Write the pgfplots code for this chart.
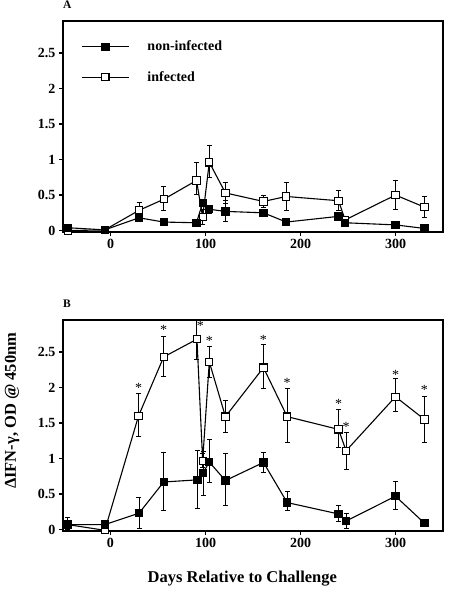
\documentclass[border=0pt]{standalone}
\usepackage{fontspec}
\setmainfont{Liberation Serif}
\usepackage{pgfplots}
\usepackage{pgfplotstable}
\pgfplotsset{compat=1.18}

% x y ep em
\pgfplotstableread{
x y ep em
-45 0.04 0 0
-6 0.01 0 0
30 0.18 0.03 0.03
56 0.12 0.02 0.02
90.5 0.11 0.02 0.02
97 0.39 0.05 0.05
104 0.30 0.06 0.06
121 0.27 0.15 0.14
161 0.25 0.05 0.05
185 0.12 0.02 0.02
240 0.20 0.06 0.06
247 0.11 0.02 0.02
300 0.08 0.02 0.02
330.5 0.03 0.02 0.02
}\nonA
\pgfplotstableread{
x y ep em
-45 0.00 0 0
-6 0.01 0 0
30 0.285 0.11 0.05
56 0.44 0.18 0.16
90.5 0.705 0.25 0.2
97 0.19 0.1 0.1
104 0.96 0.24 0.21
121 0.53 0.15 0.15
161 0.41 0.09 0.08
185 0.48 0.2 0.2
240 0.42 0.14 0.14
247 0.15 0.03 0.03
300 0.50 0.21 0.20
330.5 0.33 0.15 0.15
}\infA
\pgfplotstableread{
x y ep em
-45 0.07 0.1 0.07
-6 0.07 0.06 0.06
30 0.23 0.215 0.21
56 0.67 0.41 0.40
91.5 0.70 0.42 0.41
97.5 0.80 0.30 0.32
104 0.95 0.32 0.29
121 0.69 0.38 0.35
161 0.945 0.14 0.145
186 0.38 0.15 0.11
240 0.22 0.12 0.10
248 0.12 0.11 0.10
300 0.47 0.21 0.19
330.5 0.09 0 0
}\nonB
\pgfplotstableread{
x y ep em
-45 0.07 0 0
-6 -0.01 0 0
29.5 1.60 0.31 0.29
56 2.43 0.29 0.28
91 2.68 0.35 0.28
97 0.97 0.1 0.1
104 2.36 0.22 0.22
121 1.59 0.22 0.22
161 2.28 0.33 0.30
186 1.59 0.39 0.36
240 1.41 0.28 0.26
248 1.11 0.26 0.26
300 1.87 0.25 0.21
330.5 1.55 0.33 0.32
}\infB
\pgfplotstableread{
x y
29.5 2.00
56 2.81
94.7 2.87
104 2.65
161 2.67
186 2.06
240 1.77
248 1.45
300 2.18
330.5 1.97
}\starsB

\begin{document}
\begin{tikzpicture}
\pgfplotsset{
  myaxis/.style={
    scale only axis, width=380pt, height=211pt,
    xmin=-50, xmax=350, ymin=-0.02, ymax=2.95,
    xtick={0,100,200,300}, xticklabels={0,100,200,300},
    ytick={0,0.5,1,1.5,2,2.5}, yticklabels={0,0.5,1,1.5,2,2.5},
    tick pos=left, tick align=outside, major tick length=4pt,
    axis line style={line width=1.4pt},
    every tick/.style={line width=1.2pt, black},
    /pgf/number format/assume math mode=true,
    ticklabel style={font=\fontsize{14}{14}\selectfont\bfseries},
    title style={at={(0,1)}, anchor=south west, inner sep=0pt, yshift=6pt,
      font=\fontsize{11.5}{11.5}\selectfont\bfseries},
  },
  noninf/.style={black, line width=1.1pt, mark=square*, mark size=3.6pt,
    mark options={solid, fill=black}},
  inf/.style={black, line width=1.1pt, mark=square*, mark size=3.6pt,
    mark options={solid, fill=white}},
  errs/.style={error bars/y dir=both, error bars/y explicit,
    error bars/error bar style={line width=1pt, black},
    error bars/error mark options={rotate=90, mark size=2.5pt, line width=1pt, black}},
}
\begin{axis}[myaxis, name=A, at={(0,0)}, anchor=north west, title={A},
  legend style={at={(axis description cs:0.04,0.925)}, anchor=north west,
    draw=none, fill=none, row sep=15pt,
    font=\fontsize{14}{14}\selectfont\bfseries,
    /tikz/every odd column/.append style={column sep=16pt}},
  legend cell align=left,
  legend image code/.code={\draw[mark repeat=2,mark phase=2,#1] plot coordinates {(0pt,0pt) (23.5pt,0pt) (47pt,0pt)};}]
\addlegendimage{noninf}\addlegendentry{non-infected}
\addlegendimage{inf}\addlegendentry{infected}
\addplot[forget plot, inf, errs] table[x=x, y=y, y error plus=ep, y error minus=em] {\infA};
\addplot[forget plot, noninf, errs] table[x=x, y=y, y error plus=ep, y error minus=em] {\nonA};
\end{axis}
\begin{axis}[myaxis, name=B, at={(0,-299pt)}, anchor=north west, title={B},
  ylabel={ΔIFN-γ, OD @ 450nm},
  ylabel style={at={(axis description cs:-0.134,0.57)}, rotate=0, anchor=center,
    font=\fontsize{16.5}{16.5}\selectfont\bfseries},
  xlabel={Days Relative to Challenge},
  xlabel style={at={(axis description cs:0.472,-0.226)}, anchor=center,
    font=\fontsize{16.5}{16.5}\selectfont\bfseries}]
\addplot[inf, errs] table[x=x, y=y, y error plus=ep, y error minus=em] {\infB};
\addplot[noninf, errs] table[x=x, y=y, y error plus=ep, y error minus=em] {\nonB};
\addplot[only marks, mark=text, text mark={\fontsize{14}{14}\selectfont *}, color=black!50] table[x=x, y=y] {\starsB};
\end{axis}
\path[use as bounding box] (-63pt,21pt) rectangle (387pt,-573pt);
\end{tikzpicture}
\end{document}
